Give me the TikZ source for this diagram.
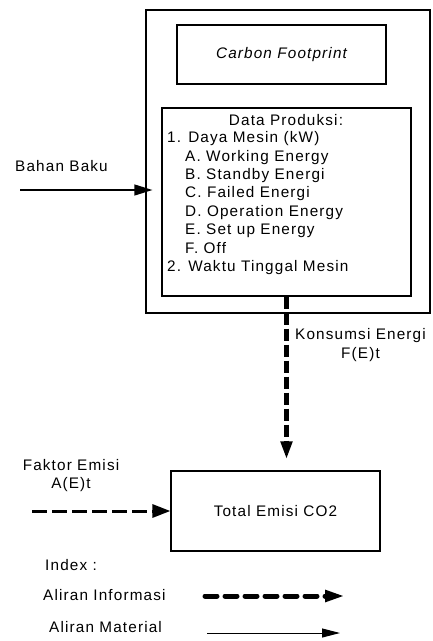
\documentclass[tikz,border=0pt]{standalone}
\usepackage{fontspec}
\setmainfont{Liberation Sans}[LetterSpace=7.5]
\usetikzlibrary{arrows.meta}
\tikzset{
  box/.style={draw, line width=1.2pt, inner sep=0pt},
  lbl/.style={inner sep=0pt, font=\fontsize{15.3pt}{18.4pt}\selectfont},
  matarrow/.style={line width=1.2pt, -{Triangle[length=18pt,width=11pt]}},
}
\begin{document}
\begin{tikzpicture}[x=1pt,y=-1pt]
\useasboundingbox (0,0) rectangle (432,641);
% boxes
\node[box, minimum width=284pt, minimum height=303pt] (outer) at (288,161.5) {};
\node[box, minimum width=209pt, minimum height=59pt, lbl, font=\fontsize{15.3pt}{18.4pt}\selectfont\itshape] (cf) at (281.5,54.5) {Carbon Footprint};
\node[box, minimum width=249pt, minimum height=188pt] (data) at (286.5,202) {};
\node[box, minimum width=209pt, minimum height=80pt, lbl] (total) at (275.5,511) {Total Emisi CO2};
% data text
\node[lbl, anchor=base] (dtitle) at (286,125) {Data Produksi:};
\foreach \xx/\tt [count=\i] in {167/1. Daya Mesin  (kW), 185/A. Working Energy, 185/B. Standby Energi, 185/C. Failed Energi, 185/D. Operation Energy, 185/E. Set up Energy, 185/F. Off, 167/2. Waktu Tinggal Mesin}
  \node[lbl, anchor=base west] (dl\i) at (\xx, {142.7+18.43*(\i-1)}) {\tt};
% labels
\node[lbl, anchor=west] (bb) at (15,166) {Bahan Baku};
\node[lbl, align=center] (ke) at (360.5,345) {Konsumsi Energi\\F(E)t};
\node[lbl, align=center] (fe) at (71,475.5) {Faktor Emisi\\A(E)t};
\node[lbl, anchor=west] (idx) at (45,565) {Index :};
\node[lbl, anchor=west] (ai) at (43,595) {Aliran Informasi};
\node[lbl, anchor=west] (am) at (49,627) {Aliran Material};
% connectors
\coordinate (bbs) at (20,190);
\draw[matarrow, shorten >=-7pt] (bbs) -- (outer.west |- bbs);
\draw[line width=5pt, dash pattern=on 12pt off 4pt, shorten >=11pt, -{Triangle[length=18pt,width=11pt]}] (data.south) -- (data.south |- total.north);
\coordinate (fes) at (32,511);
\draw[line width=3pt, dash pattern=on 15pt off 5pt, -{Triangle[length=18pt,width=13pt]}] (fes) -- (total.west);
% legend
\coordinate (li1) at (205,596);
\coordinate (li2) at (345,596);
\draw[line width=5pt, line cap=round, dash pattern=on 12pt off 8pt, -{Triangle[length=20pt,width=11pt]}] (li1) -- (li2);
\coordinate (lm1) at (207,633);
\coordinate (lm2) at (340,633);
\draw[line width=1pt, -{Triangle[length=18pt,width=9pt]}] (lm1) -- (lm2);
\end{tikzpicture}
\end{document}
